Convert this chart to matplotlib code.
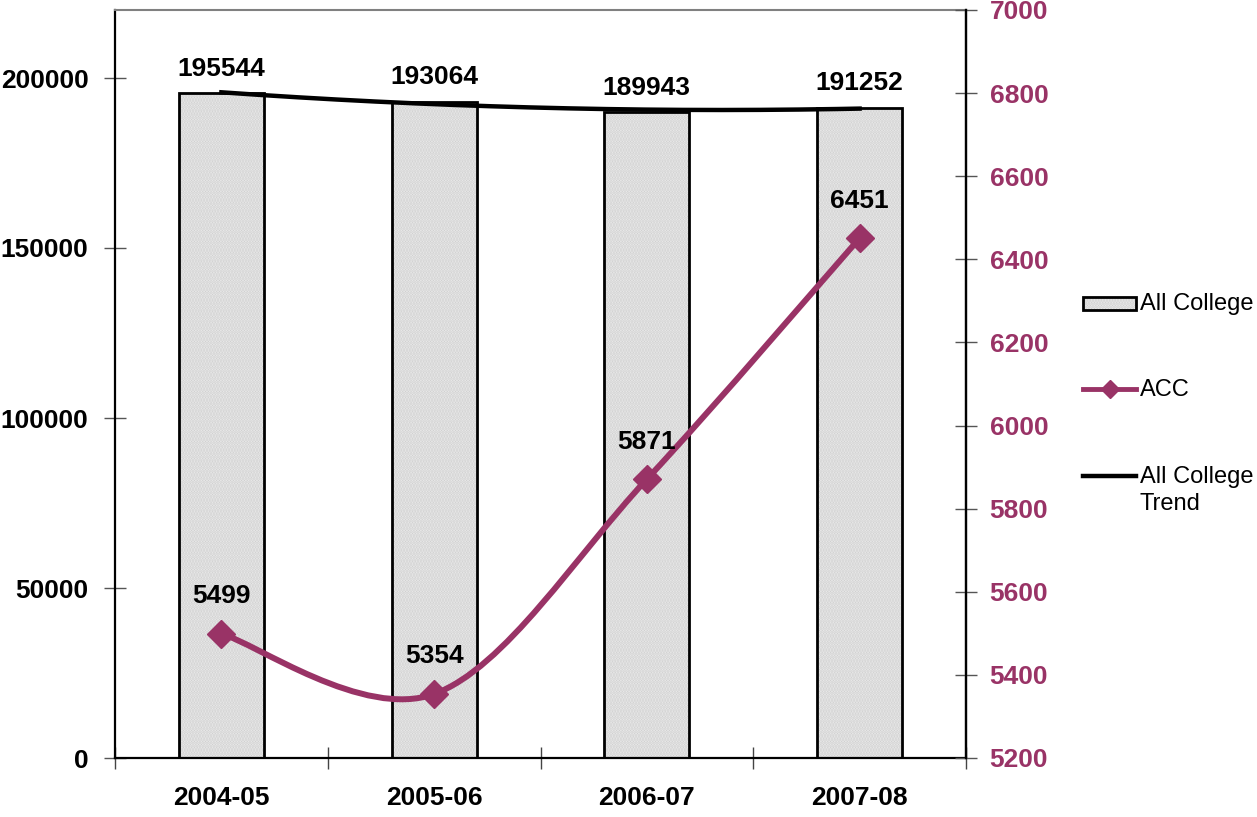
import matplotlib
matplotlib.use("Agg")
import matplotlib.pyplot as plt
import numpy as np
from matplotlib.lines import Line2D
from matplotlib.patches import PathPatch, Rectangle
from matplotlib.path import Path

plt.rcParams["font.family"] = ["Liberation Sans", "DejaVu Sans"]
plt.rcParams["hatch.linewidth"] = 1.6

years = ["2004-05", "2005-06", "2006-07", "2007-08"]
all_college = [195544, 193064, 189943, 191252]
acc = [5499, 5354, 5871, 6451]

ACC_COLOR = "#993366"
BAR_FILL = "#efefef"
BAR_DOTS = "#cfcfcf"
LABEL_SIZE = 19


def smooth_path(xs, ys):
    # bezier segments through each point, tension like a spreadsheet "smoothed line"
    pts = np.column_stack([xs, ys]).astype(float)
    padded = np.vstack([pts[0], pts, pts[-1]])
    verts = [pts[0]]
    codes = [Path.MOVETO]
    for i in range(len(pts) - 1):
        p_prev, p0, p1, p_next = padded[i], padded[i + 1], padded[i + 2], padded[i + 3]
        c1 = p0 + (p1 - p_prev) / 6.0
        c2 = p1 - (p_next - p0) / 6.0
        verts += [c1, c2, p1]
        codes += [Path.CURVE4] * 3
    return Path(verts, codes)


fig = plt.figure(figsize=(12.57, 8.17), dpi=100)
ax = fig.add_axes([115 / 1257, 1 - 758 / 817, 851 / 1257, 748 / 817])
x = np.arange(len(years))

# bars: dotted fill underneath, black outline on top
ax.bar(x, all_college, width=0.4, color=BAR_FILL, edgecolor=BAR_DOTS, hatch="......",
       linewidth=0, zorder=2)
ax.bar(x, all_college, width=0.4, fill=False, edgecolor="black", linewidth=2.0, zorder=3)
for xi, v in zip(x, all_college):
    ax.annotate(f"{v}", (xi, v), xytext=(0, 12.5), textcoords="offset points",
                ha="center", va="baseline", fontsize=LABEL_SIZE, fontweight="bold", zorder=6)

# quadratic trend through the bar totals
coef = np.polyfit(x, all_college, 2)
xt = np.linspace(x[0], x[-1], 200)
ax.plot(xt, np.polyval(coef, xt), color="black", linewidth=3.2, zorder=4)

ax.set_xlim(-0.5, len(years) - 0.5)
ax.set_ylim(0, 220000)
ax.set_yticks(np.arange(0, 200001, 50000))
ax.set_xticks(np.arange(-0.5, len(years)), labels=[""] * (len(years) + 1))
ax.set_xticks(x, labels=years, minor=True)
ax.tick_params(axis="x", which="major", direction="inout", length=16, width=1, color="#444444")
ax.tick_params(axis="x", which="minor", length=0, pad=20, labelsize=LABEL_SIZE)
ax.tick_params(axis="y", direction="inout", length=16, width=1, color="#555555",
               pad=11, labelsize=LABEL_SIZE)
for lbl in ax.get_xticklabels(minor=True) + ax.get_yticklabels():
    lbl.set_fontweight("bold")
ax.spines["top"].set_color("#808080")
ax.spines["top"].set_linewidth(1.5)
for side in ("left", "bottom", "right"):
    ax.spines[side].set_color("black")
    ax.spines[side].set_linewidth(1.6)

ax2 = ax.twinx()
ax2.set_ylim(5200, 7000)
ax2.set_yticks(np.arange(5200, 7001, 200))
ax2.tick_params(axis="y", direction="inout", length=16, width=1, color="#555555",
                pad=9, labelsize=LABEL_SIZE, labelcolor=ACC_COLOR)
for lbl in ax2.get_yticklabels():
    lbl.set_fontweight("bold")
ax2.spines["right"].set_color("black")
ax2.spines["right"].set_linewidth(1.6)
for side in ("left", "top", "bottom"):
    ax2.spines[side].set_visible(False)

ax2.add_patch(PathPatch(smooth_path(x, acc), facecolor="none", edgecolor=ACC_COLOR,
                        linewidth=4.3, capstyle="round", zorder=4))
ax2.plot(x, acc, linestyle="none", marker="D", markersize=14, color=ACC_COLOR, zorder=5)
for xi, v in zip(x, acc):
    ax2.annotate(f"{v}", (xi, v), xytext=(0, 22), textcoords="offset points",
                 ha="center", va="baseline", fontsize=LABEL_SIZE, fontweight="bold", zorder=6)

# legend on the right, built by hand
W, H = 1257, 817


def fx(px):
    return px / W


def fy(py):
    return 1 - py / H


fig.add_artist(Rectangle((fx(1083), fy(310)), fx(1136) - fx(1083), fy(297) - fy(310),
                         transform=fig.transFigure, facecolor=BAR_FILL, edgecolor=BAR_DOTS,
                         hatch="......", linewidth=0))
fig.add_artist(Rectangle((fx(1083), fy(310)), fx(1136) - fx(1083), fy(297) - fy(310),
                         transform=fig.transFigure, fill=False, edgecolor="black", linewidth=2))
fig.add_artist(Line2D([fx(1083), fx(1136)], [fy(389), fy(389)], transform=fig.transFigure,
                      color=ACC_COLOR, linewidth=3.5))
fig.add_artist(Line2D([fx(1109.5)], [fy(389)], transform=fig.transFigure, color=ACC_COLOR,
                      marker="D", markersize=9, linestyle="none"))
fig.add_artist(Line2D([fx(1083), fx(1136)], [fy(476), fy(476)], transform=fig.transFigure,
                      color="black", linewidth=3.2))
legend_kw = dict(fontsize=17, va="center", ha="left")
fig.text(fx(1140), fy(304), "All College", **legend_kw)
fig.text(fx(1140), fy(390), "ACC", **legend_kw)
fig.text(fx(1140), fy(477), "All College", **legend_kw)
fig.text(fx(1140), fy(504), "Trend", **legend_kw)

fig.savefig("out.png", dpi=100)
